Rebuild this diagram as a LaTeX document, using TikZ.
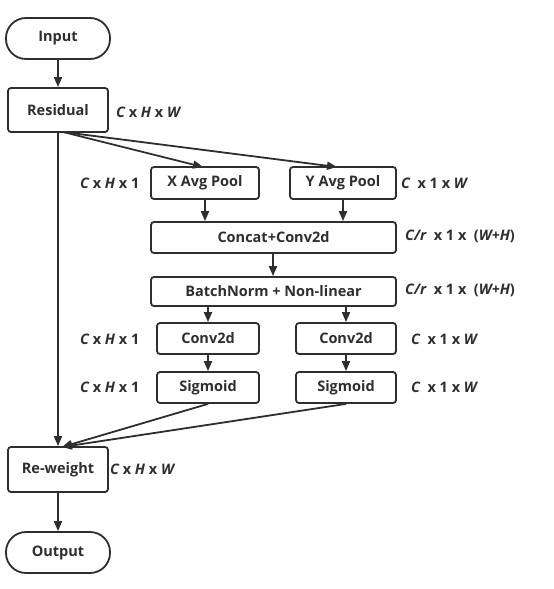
\documentclass[tikz,border=0pt]{standalone}
\usepackage{fontspec}
\setmainfont{Open Sans}
\usetikzlibrary{arrows.meta}
\definecolor{ink}{HTML}{2E2E2E}
\begin{document}
\begin{tikzpicture}[x=1pt,y=-1pt,
  every node/.style={font=\fontsize{14.5}{17}\selectfont\bfseries, text=ink},
  box/.style={draw=ink, line width=1.8pt, rounded corners=3pt, inner sep=0pt, align=center},
  term/.style={box, rounded corners=20pt, minimum width=104pt, minimum height=41pt},
  lab/.style={anchor=west, inner sep=0pt},
  conn/.style={draw=ink, line width=1.8pt, -{Triangle[length=10pt,width=8pt]}}
]
\useasboundingbox (0,0) rectangle (554,589);
\node[term] (in) at (58,38.5) {Input};
\node[box, minimum width=100pt, minimum height=44pt] (res) at (58,110) {Residual};
\node[lab] (lres) at (116,112) {\itshape C\upshape\ x \itshape H\upshape\ x \itshape W};
\node[box, minimum width=108pt, minimum height=32pt] (xp) at (205,183) {X Avg Pool};
\node[box, minimum width=106pt, minimum height=32pt] (yp) at (343,183) {Y Avg Pool};
\node[lab] (lxp) at (80,183) {\itshape C\upshape\ x \itshape H\upshape\ x 1};
\node[lab] (lyp) at (401,183) {\itshape C\upshape\ \ x 1 x \itshape W};
\node[box, minimum width=245pt, minimum height=31pt] (cc) at (273.5,237.5) {Concat+Conv2d};
\node[lab] (lcc) at (405,236) {\itshape C/r\upshape\ \ x 1 x \ (\itshape W+H\upshape)};
\node[box, minimum width=245pt, minimum height=29pt] (bn) at (273.5,291.5) {BatchNorm + Non-linear};
\node[lab] (lbn) at (405,290) {\itshape C/r\upshape\ \ x 1 x \ (\itshape W+H\upshape)};
\node[box, minimum width=102pt, minimum height=31pt] (c1) at (208,338.5) {Conv2d};
\node[box, minimum width=100pt, minimum height=31pt] (c2) at (346,338.5) {Conv2d};
\node[lab] (lc1) at (80,339) {\itshape C\upshape\ x \itshape H\upshape\ x 1};
\node[lab] (lc2) at (411,339) {\itshape C\upshape\ \ x 1 x \itshape W};
\node[box, minimum width=102pt, minimum height=31pt] (s1) at (208,387.5) {Sigmoid};
\node[box, minimum width=100pt, minimum height=31pt] (s2) at (346,387.5) {Sigmoid};
\node[lab] (ls1) at (80,387) {\itshape C\upshape\ x \itshape H\upshape\ x 1};
\node[lab] (ls2) at (411,387) {\itshape C\upshape\ \ x 1 x \itshape W};
\node[box, minimum width=100pt, minimum height=45pt] (rw) at (58,469.5) {Re-weight};
\node[lab] (lrw) at (110,469) {\itshape C\upshape\ x \itshape H\upshape\ x \itshape W};
\node[term] (out) at (58,552.5) {Output};
\coordinate (rs) at (63,132);
\coordinate (xin) at (203,167);
\coordinate (yin) at (337,167);
\coordinate (rwin) at (62,447);
\coordinate (ccout) at (273,253);
\draw[conn] (in) -- (res);
\draw[conn] (rs) -- (xin);
\draw[conn] (rs) -- (yin);
\draw[conn] (res.south) -- (rw.north);
\draw[conn] (xp.south) -- (xp.south |- cc.north);
\draw[conn] (yp.south) -- (yp.south |- cc.north);
\draw[conn] (ccout) -- (ccout |- bn.north);
\draw[conn] (c1.north |- bn.south) -- (c1.north);
\draw[conn] (c2.north |- bn.south) -- (c2.north);
\draw[conn] (c1) -- (s1);
\draw[conn] (c2) -- (s2);
\draw[conn] (s1.south) -- (rwin);
\draw[conn] (s2.south) -- (rwin);
\draw[conn] (rw) -- (out);
\end{tikzpicture}
\end{document}
